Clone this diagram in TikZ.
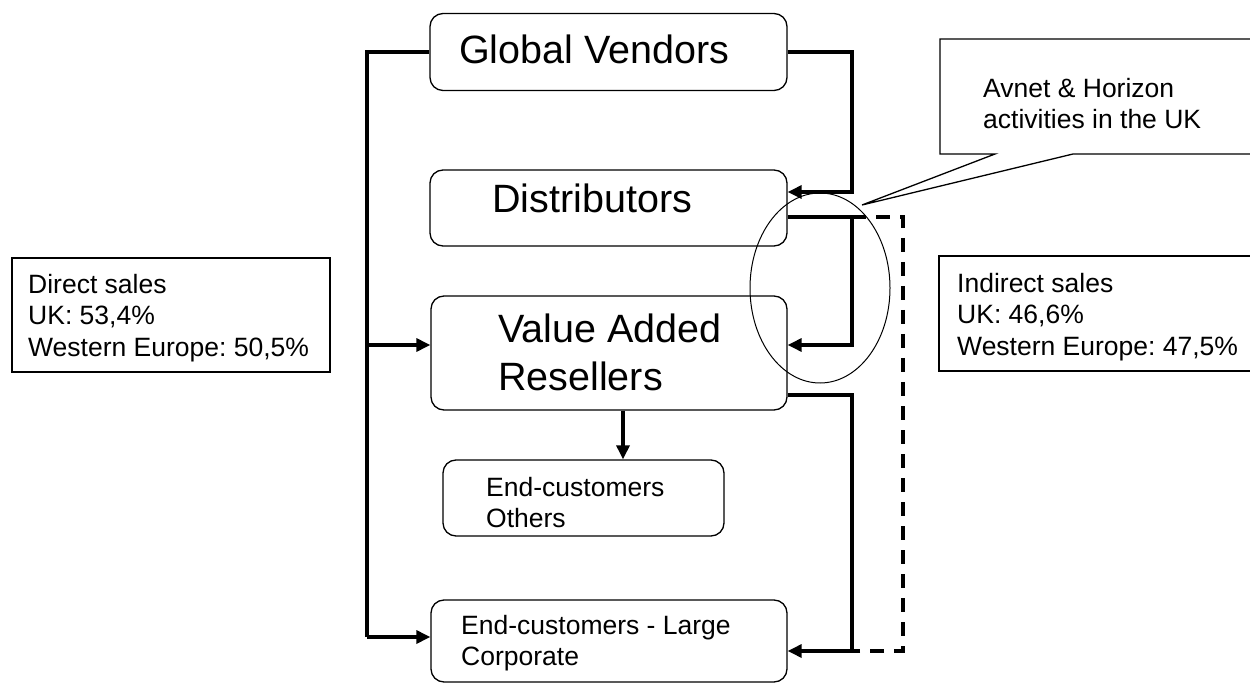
\documentclass[tikz,border=0pt]{standalone}
\usepackage{fontspec}
\setmainfont{Liberation Sans}
\frenchspacing
\usetikzlibrary{arrows.meta}
\begin{document}
\begin{tikzpicture}[x=1pt,y=-1pt,
	box/.style={draw,line width=1.3pt,rounded corners=13pt,inner sep=0pt},
	infobox/.style={draw,line width=1.3pt,inner sep=0pt},
	txt/.style={font=\fontsize{26.5}{31.5}\selectfont,align=left,inner sep=0pt,anchor=north west},
	bigtxt/.style={font=\fontsize{39.5}{48}\selectfont,align=left,inner sep=0pt,anchor=north west},
	link/.style={line width=3.2pt},
	tip/.style={-{Triangle[length=14pt,width=13pt]}}]
	\useasboundingbox (0,0) rectangle (1250,684);
	\clip (0,0) rectangle (1250,684);
	\node[box,minimum width=357pt,minimum height=77pt] (gv) at (608.5,52) {};
	\node[box,minimum width=357pt,minimum height=76pt] (dist) at (608.5,208) {};
	\node[box,minimum width=356pt,minimum height=114pt] (var) at (609,353) {};
	\node[box,minimum width=281pt,minimum height=76pt] (others) at (583.5,498) {};
	\node[box,minimum width=356pt,minimum height=82pt] (large) at (609,641) {};
	\node[infobox,minimum width=318pt,minimum height=114pt] (direct) at (171,315) {};
	\node[infobox,minimum width=322pt,minimum height=115pt] (indirect) at (1100,313.5) {};
	\draw[line width=1.3pt] (940,39) -- (1262,39) -- (1262,154) -- (1073,154) -- (862,205) -- (995,154) -- (940,154) -- cycle;
	\node[bigtxt,anchor=base west] (gvtxt) at (459,64) {Global Vendors};
	\node[bigtxt,anchor=base west] (disttxt) at (492,213) {Distributors};
	\node[bigtxt] (vartxt) at (498,314) {Value Added\\Resellers};
	\node[txt] (otherstxt) at (486,477) {End-customers\\Others};
	\node[txt] (largetxt) at (461,615) {End-customers - Large\\Corporate};
	\node[txt] (directtxt) at (28,274) {Direct sales\\UK: 53,4\%\\Western Europe: 50,5\%};
	\node[txt] (indirecttxt) at (957,273) {Indirect sales\\UK: 46,6\%\\Western Europe: 47,5\%};
	\node[txt] (avnettxt) at (983,78) {Avnet \& Horizon\\activities in the UK};
	\coordinate (ltop) at (367,52);
	\coordinate (lvar) at (367,345);
	\coordinate (lbot) at (367,637);
	\coordinate (rtop) at (852,52);
	\coordinate (rdist) at (852,192);
	\coordinate (rmid) at (852,217);
	\coordinate (rlow) at (852,395);
	\coordinate (rbot) at (852,651);
	\coordinate (dtop) at (903,217);
	\coordinate (dbot) at (903,651);
	\draw[link] (gv.west) -- (ltop) -- (lbot);
	\draw[link,tip] (lbot) -- (lbot -| large.west);
	\draw[link,tip] (lvar) -- (lvar -| var.west);
	\draw[link,tip] (gv.east) -- (rtop) -- (rdist) -- (rdist -| dist.east);
	\draw[link,tip] (rmid -| dist.east) -- (rmid) |- (lvar -| var.east);
	\draw[link,tip] (rlow -| var.east) -- (rlow) |- (rbot -| large.east);
	\draw[link,dash pattern=on 14pt off 10pt] (rmid) -- (dtop) -- (dbot) -- (rbot);
	\draw[link,tip] ([xshift=14pt]var.south) -- ([xshift=14pt]var.south |- others.north);
	\draw[line width=1pt] (820,288) ellipse [x radius=70, y radius=95];
\end{tikzpicture}
\end{document}
